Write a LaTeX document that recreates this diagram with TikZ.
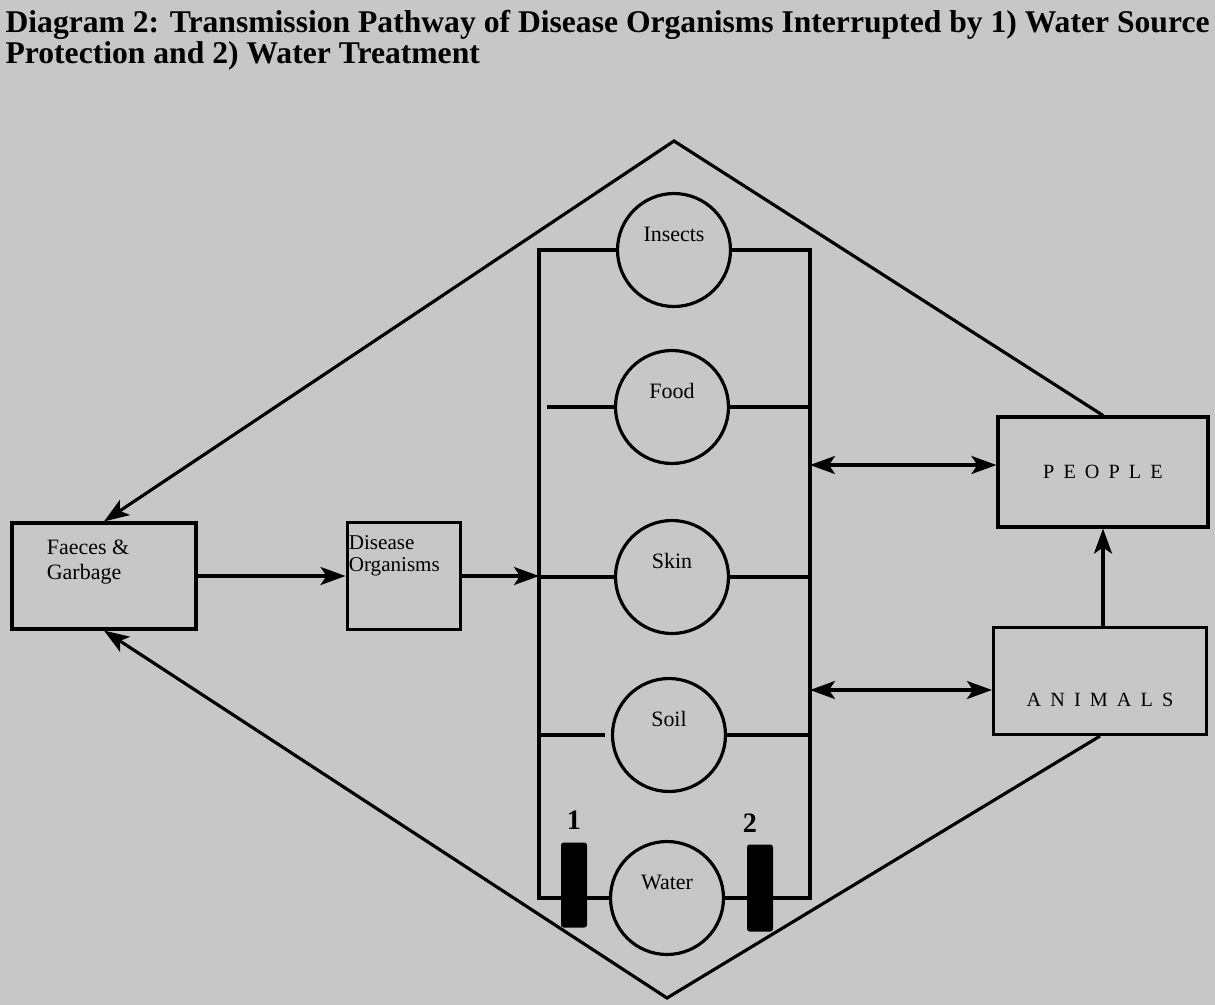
\documentclass[tikz,border=0pt]{standalone}
\usepackage{fontspec}
\setmainfont{Liberation Serif}
\newfontfamily\spacedfont[LetterSpace=45]{Liberation Serif}
\usetikzlibrary{arrows.meta,positioning}
\definecolor{bg}{gray}{0.78}

\begin{document}
\begin{tikzpicture}[
    x=0.02cm, y=-0.02cm, line width=1.8pt,
    every node/.style={font=\fontsize{12.5}{14}\selectfont},
    box/.style={draw, fill=bg, inner sep=0pt},
    blob/.style={circle, draw, fill=bg, minimum size=2.26cm, inner sep=0pt, text height=0.3cm, text depth=0.66cm},
    bar/.style={fill=black, rounded corners=1.5pt, minimum width=0.52cm, minimum height=1.7cm, inner sep=0pt},
    tag/.style={font=\bfseries\fontsize{16}{16}\selectfont, inner sep=1pt},
    caps/.style={font=\spacedfont\fontsize{11.5}{13}\selectfont},
    arr/.style={-{Stealth[length=0.5cm, width=0.36cm, inset=0.12cm]}},
    dbl/.style={{Stealth[length=0.5cm, width=0.36cm, inset=0.12cm]}-{Stealth[length=0.5cm, width=0.36cm, inset=0.12cm]}},
  ]
  \fill[bg] (0,0) rectangle (1215,1005);
  \useasboundingbox (0,0) rectangle (1215,1005);

  \node[anchor=north west, align=left, inner sep=0pt, font=\bfseries\fontsize{18}{15}\selectfont] (title) at (4,9)
    {Diagram 2: Transmission Pathway of Disease Organisms Interrupted by 1) Water Source\\Protection and 2) Water Treatment};

  % left boxes
  \node[box, minimum width=3.68cm, minimum height=2.12cm,
        label={[anchor=north west, align=left, xshift=0.58cm, yshift=-0.22cm]north west:{Faeces \&\\Garbage}}] (faeces) at (104,576) {};
  \node[box, right=2.96cm of faeces, minimum width=2.26cm, minimum height=2.14cm,
        label={[anchor=north west, align=left, inner sep=1pt, yshift=-0.22cm, font=\fontsize{12}{12.5}\selectfont]north west:{Disease\\Organisms}}] (disease) {};

  % right boxes
  \node[box, caps, minimum width=4.2cm, minimum height=2.2cm] (people) at (1103,472) {PEOPLE};
  \node[box, caps, minimum width=4.26cm, minimum height=2.14cm, text height=1.2cm, text depth=0.18cm] (animals) at (1100,681) {ANIMALS};

  % routes
  \node[blob] (ins)   at (674,250) {Insects};
  \node[blob] (food)  at (672,407) {Food};
  \node[blob] (skin)  at (672,577) {Skin};
  \node[blob] (soil)  at (669,735) {Soil};
  \node[blob] (water) at (667,898) {Water};

  \coordinate (tl) at (539,250);
  \coordinate (tr) at (810,250);
  \coordinate (bl) at (539,898);
  \coordinate (br) at (810,898);
  \coordinate (apex) at (674,141);
  \coordinate (base) at (667,998);

  \draw (ins.west) -- (tl) -- (bl) -- (water.west);
  \draw (ins.east) -- (tr) -- (br) -- (water.east);
  \draw ([xshift=0.16cm]tl |- food.west) -- (food.west);
  \draw (food.east) -- (tr |- food.east);
  \draw (tl |- skin.west) -- (skin.west);
  \draw (skin.east) -- (tr |- skin.east);
  \draw (tl |- soil.west) -- ([xshift=-0.12cm]soil.west);
  \draw (soil.east) -- (tr |- soil.east);

  % barriers
  \node[bar, label={[tag, yshift=0.16cm]above:1}] (gate1) at (574,885) {};
  \node[bar, minimum height=1.74cm, label={[tag, xshift=-0.2cm, yshift=0.14cm]above:2}] (gate2) at (760,888) {};

  \draw[arr] (faeces) -- (disease);
  \draw[arr] (disease.east) -- (tl |- disease.east);
  \draw[dbl] ([yshift=0.14cm]people.west -| tr) -- ([yshift=0.14cm]people.west);
  \draw[dbl] ([yshift=-0.18cm]animals.west -| tr) -- ([yshift=-0.18cm]animals.west);
  \draw[arr] (people.south |- animals.north) -- (people.south);
  \draw[arr] (people.north) -- (apex) -- (faeces.north);
  \draw[arr] (animals.south) -- (base) -- (faeces.south);
\end{tikzpicture}
\end{document}
